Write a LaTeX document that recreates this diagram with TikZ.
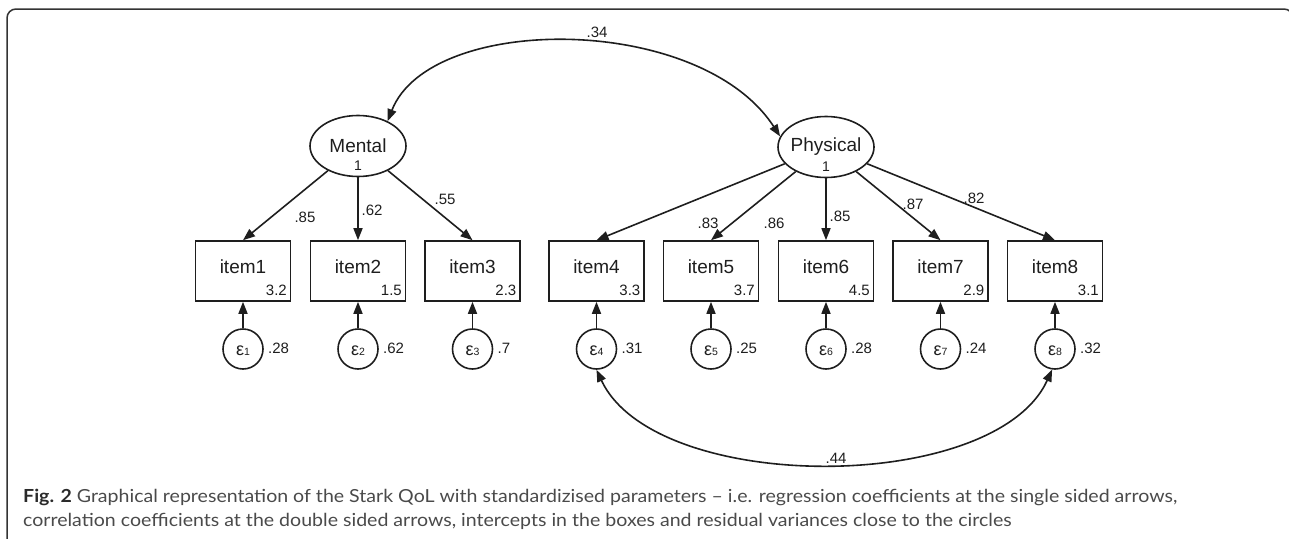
\documentclass[tikz,border=0pt]{standalone}
\usepackage{fontspec}
\usepackage{graphicx}
\setmainfont{Liberation Sans}
\newfontfamily\capfont{Lato}
\usetikzlibrary{arrows.meta,shapes.geometric}
\definecolor{ink}{HTML}{1E1E1E}
\definecolor{framec}{HTML}{333333}
\definecolor{capdark}{HTML}{2A2A2A}
\definecolor{capgray}{HTML}{4A4A4A}
\newsavebox\capboxA
\newsavebox\capboxB
\newlength\capwdA
\begin{document}
\sbox\capboxA{\capfont\fontsize{18}{18}\selectfont{\color{capdark}\bfseries Fig. 2} \color{capgray}Graphical representation of the Stark QoL with standardizised parameters – i.e. regression coefficients at the single sided arrows,}%
\sbox\capboxB{\capfont\fontsize{18}{18}\selectfont\color{capgray}correlation coefficients at the double sided arrows, intercepts in the boxes and residual variances close to the circles}%
\setlength\capwdA{\wd\capboxA}%
\pgfmathsetmacro\capsc{1154pt/\capwdA}%
\begin{tikzpicture}[x=1pt,y=-1pt,
  lat/.style={draw=ink,line width=1.6pt,ellipse,minimum width=96pt,minimum height=61pt,inner sep=0pt},
  obs/.style={draw=ink,line width=1.6pt,rectangle,minimum width=95pt,minimum height=60pt,inner sep=0pt},
  err/.style={draw=ink,line width=1.6pt,circle,minimum size=40pt,inner sep=0pt},
  conn/.style={draw=ink,line width=1.6pt,-{Triangle[length=12pt,width=9pt]}},
  biconn/.style={draw=ink,line width=1.6pt,{Triangle[length=12pt,width=9pt]}-{Triangle[length=12pt,width=9pt]}},
  nametxt/.style={font=\fontsize{19}{19}\selectfont,inner sep=0pt,text=ink},
  numtxt/.style={font=\fontsize{15}{15}\selectfont,inner sep=0pt,text=ink},
  onetxt/.style={font=\fontsize{14}{14}\selectfont,inner sep=0pt,text=ink},
  epstxt/.style={font=\fontsize{18}{18}\selectfont,inner sep=0pt,text=ink},
]
\useasboundingbox (0,0) rectangle (1289,538);
\clip (0,0) rectangle (1289,538);
% frame
\draw[framec,line width=1.5pt,rounded corners=9pt] (7,545) -- (7,9) -- (1293,9) -- (1293,60);

% latent variables
\node[lat] (mental) at (358,146) {};
\node[nametxt] (mentalname) at (358,146) {Mental};
\node[onetxt] (mentalvar) at (358,166) {1};
\node[lat] (physical) at (826,147) {};
\node[nametxt] (physicalname) at (826,147) {Physical};
\node[onetxt] (physicalvar) at (826,167) {1};

% observed items
\foreach \i/\x/\ic in {1/243/3.2,2/358/1.5,3/472.5/2.3,4/596.5/3.3,5/711/3.7,6/826/4.5,7/940.5/2.9,8/1055/3.1}{
  \node[obs] (item\i) at (\x,271) {};
  \node[nametxt] (itemname\i) at (\x,267) {item\i};
  \node[numtxt,anchor=base east] (int\i) at (\x+44,295) {\ic};
}

% error terms
\foreach \i/\x/\rv in {1/243/.28,2/358/.62,3/472.5/.7,4/596.5/.31,5/711/.25,6/826/.28,7/940.5/.24,8/1055/.32}{
  \node[err] (e\i) at (\x,349) {};
  \node[epstxt,anchor=base] (eps\i) at (\x,355) {ε\raisebox{-0.5pt}{\fontsize{10.5}{10.5}\selectfont\i}};
  \node[numtxt,anchor=west] (res\i) at (\x+25,348) {\rv};
  \draw[conn] (e\i) -- (item\i);
}

% loadings
\foreach \i in {1,2,3}{\draw[conn] (mental) -- (item\i.north);}
\foreach \i in {4,5,6,7,8}{\draw[conn] (physical) -- (item\i.north);}
\node[numtxt] (l1) at (305,217) {.85};
\node[numtxt] (l2) at (372,210) {.62};
\node[numtxt] (l3) at (445,199) {.55};
\node[numtxt] (l4) at (708,223) {.83};
\node[numtxt] (l5) at (774,223) {.86};
\node[numtxt] (l6) at (840,216) {.85};
\node[numtxt] (l7) at (913,204) {.87};
\node[numtxt] (l8) at (974,198) {.82};

% correlations
\draw[biconn] (mental.40) .. controls (430,13) and (700,13) .. (physical.167);
\node[numtxt] (c1) at (597,32) {.34};
\draw[biconn] (e4.south) .. controls (655,495) and (995,495) .. (e8.-98);
\node[numtxt] (c2) at (836,458) {.44};

% caption
\node[anchor=base west,inner sep=0pt] (cap1) at (23,502) {\scalebox{\capsc}[1]{\usebox\capboxA}};
\node[anchor=base west,inner sep=0pt] (cap2) at (23,526) {\scalebox{\capsc}[1]{\usebox\capboxB}};
\end{tikzpicture}
\end{document}
